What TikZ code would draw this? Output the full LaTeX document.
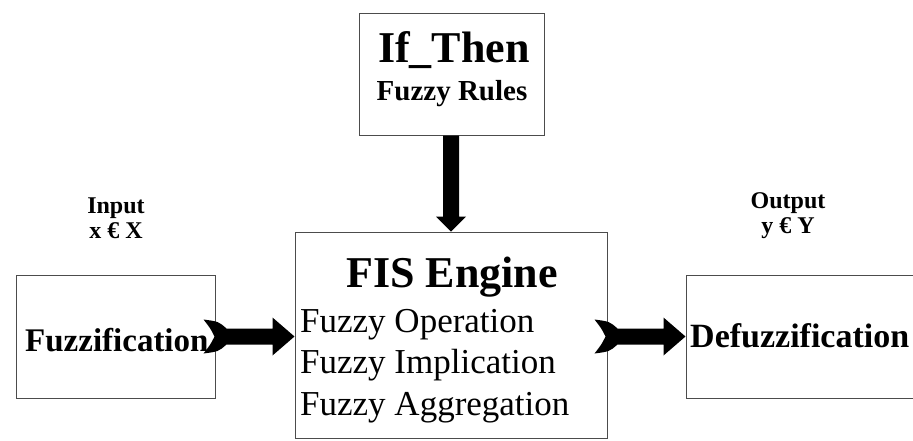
\documentclass[tikz,border=0pt]{standalone}
\usepackage{fontspec}
\setmainfont{Liberation Serif}
\usetikzlibrary{calc}

\tikzset{
  block/.style={draw=black!70, line width=1pt, fill=white, inner sep=0pt},
  txt/.style={inner sep=0pt, anchor=base, text=black},
  txtl/.style={inner sep=0pt, anchor=base west, text=black},
  fatarrow/.style={fill=black},
}
\newcommand\fs[1]{\fontsize{#1}{#1}\selectfont}

% thick horizontal arrow with a notched, slightly curved tail; #1 is the tip
\newcommand\notcharrow[1]{%
  \fill[fatarrow] (#1) -- ($(#1)+(-22,-19)$) -- ($(#1)+(-22,-8)$)
    -- ($(#1)+(-68,-8)$)
    .. controls ($(#1)+(-76,-15)$) .. ($(#1)+(-91,-17)$)
    .. controls ($(#1)+(-84,-8)$) .. ($(#1)+(-80,0)$)
    .. controls ($(#1)+(-84,8)$) .. ($(#1)+(-91,17)$)
    .. controls ($(#1)+(-76,15)$) .. ($(#1)+(-68,8)$)
    -- ($(#1)+(-22,8)$) -- ($(#1)+(-22,19)$) -- cycle;}

\begin{document}
\begin{tikzpicture}[x=1pt,y=-1pt]
\useasboundingbox (0,0) rectangle (913,440);
\clip (0,0) rectangle (913,440);

% blocks
\node[block, minimum width=185pt, minimum height=122pt] (rules) at (451.5,74) {};
\node[block, minimum width=312pt, minimum height=206pt] (fis) at (451,335) {};
\node[block, minimum width=199pt, minimum height=123pt] (fuzz) at (115.5,336.5) {};
\node[block, minimum width=244pt, minimum height=123pt] (defuzz) at (808,336.5) {};

% labels
\node[txt] (ifthen) at (454,62) {\fs{44}\bfseries If\_Then};
\node[txt] (rulestxt) at (452,100) {\fs{29}\bfseries Fuzzy Rules};
\node[txt] (fistxt) at (452,287) {\fs{44}\bfseries FIS Engine};
\node[txtl] (op) at (300,332) {\fs{35}Fuzzy Operation};
\node[txtl] (imp) at (300,373) {\fs{35}Fuzzy Implication};
\node[txtl] (agg) at (300,415) {\fs{35}Fuzzy Aggregation};
\node[txtl] (fuzztxt) at (25,351) {\fs{33}\bfseries Fuzzification};
\node[txtl] (defuzztxt) at (690,347) {\fs{34}\bfseries Defuzzification};
\node[txt] (in1) at (116,213) {\fs{24}\bfseries Input};
\node[txt] (in2) at (116,238) {\fs{24}\bfseries x € X};
\node[txt] (out1) at (788,208) {\fs{24}\bfseries Output};
\node[txt] (out2) at (788,233) {\fs{24}\bfseries y € Y};

% rules -> engine
\coordinate (dtop) at (rules.south -| fis.north);
\fill[fatarrow] (fis.north) -- ($(fis.north)+(-15,-15)$) -- ($(fis.north)+(-8,-15)$)
  -- ($(dtop)+(-8,0)$) -- ($(dtop)+(8,0)$) -- ($(fis.north)+(8,-15)$)
  -- ($(fis.north)+(15,-15)$) -- cycle;

% fuzzification -> engine -> defuzzification
\coordinate (tipA) at (fuzz.east -| fis.west);
\coordinate (tipB) at (defuzz.west);
\notcharrow{tipA}
\notcharrow{tipB}
\end{tikzpicture}
\end{document}
